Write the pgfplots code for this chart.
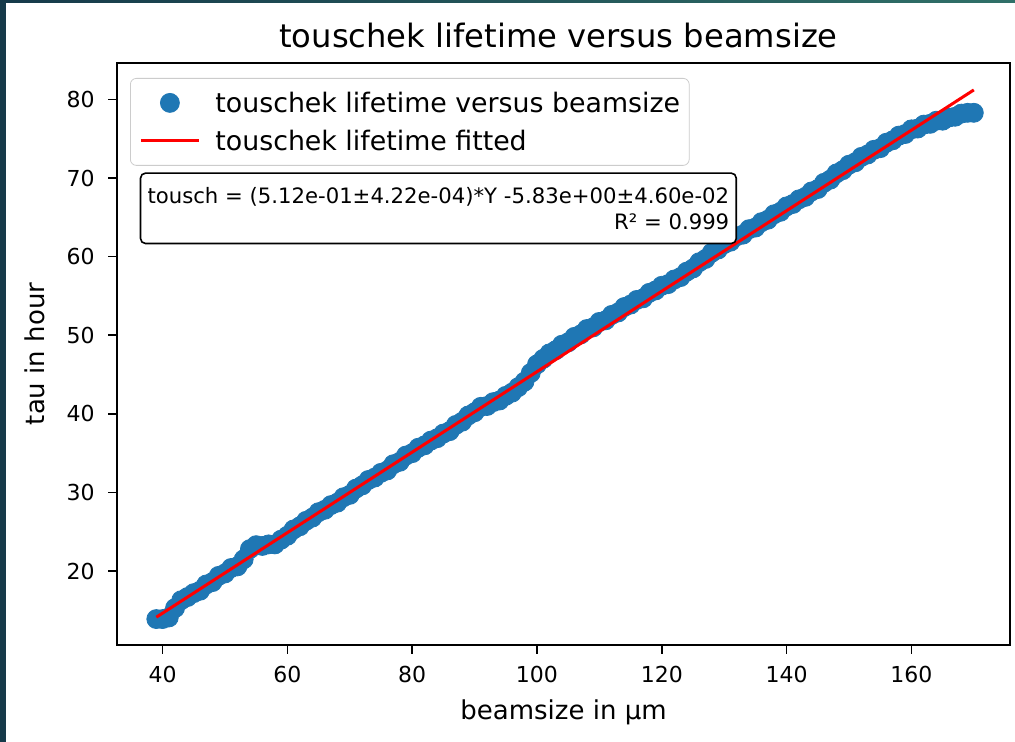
\documentclass[border=0pt]{standalone}
\usepackage{fontspec}
\setmainfont{DejaVu Sans}
\usepackage{pgfplots}
\usepackage{pgfplotstable}
\pgfplotsset{compat=1.18}
\definecolor{mplblue}{HTML}{1F77B4}
\definecolor{frameL}{RGB}{22,58,74}
\definecolor{frameR}{RGB}{48,112,104}
\pgfplotsset{
  dotlegend/.style={legend image code/.code={\draw[mark repeat=2,mark phase=2,##1] plot coordinates {(0pt,0pt)(14.5pt,0pt)(29pt,0pt)}; \path (36.5pt,0pt);}},
  linelegend/.style={legend image code/.code={\draw[##1] (0pt,0pt) -- (29pt,0pt); \path (36.5pt,0pt);}}
}
\pgfplotstableread{
x y
39 13.9
40 13.9
41 14.1
42 15.3
43 16.3
44 16.7
45 17.2
46 17.5
47 18.3
48 18.6
49 19.4
50 19.7
51 20.4
52 20.6
53 21.5
54 22.8
55 23.3
56 23.2
57 23.4
58 23.4
59 24.0
60 24.5
61 25.3
62 25.7
63 26.4
64 26.8
65 27.5
66 27.8
67 28.4
68 28.7
69 29.4
70 29.7
71 30.5
72 30.9
73 31.6
74 31.9
75 32.5
76 32.8
77 33.6
78 33.9
79 34.7
80 35.0
81 35.7
82 36.0
83 36.6
84 36.9
85 37.5
86 37.8
87 38.6
88 39.0
89 39.8
90 40.2
91 40.9
92 41.0
93 41.5
94 41.7
95 42.3
96 42.7
97 43.4
98 44.1
99 45.2
100 46.3
101 47.0
102 47.7
103 48.1
104 48.8
105 49.1
106 49.8
107 50.1
108 50.8
109 51.0
110 51.7
111 51.9
112 52.6
113 52.9
114 53.6
115 53.9
116 54.5
117 54.7
118 55.4
119 55.7
120 56.3
121 56.5
122 57.1
123 57.4
124 58.1
125 58.5
126 59.3
127 59.7
128 60.5
129 60.9
130 61.6
131 61.9
132 62.6
133 62.8
134 63.5
135 63.7
136 64.4
137 64.7
138 65.4
139 65.7
140 66.4
141 66.7
142 67.3
143 67.6
144 68.3
145 68.6
146 69.4
147 69.8
148 70.6
149 71.0
150 71.7
151 72.0
152 72.7
153 73.0
154 73.6
155 73.8
156 74.5
157 74.8
158 75.4
159 75.6
160 76.2
161 76.3
162 76.8
163 76.9
164 77.3
165 77.3
166 77.7
167 77.8
168 78.2
169 78.3
170 78.3
}\scatterdata
\pgfplotstableread{
x y
39 14.138
170 81.21
}\fitdata
\begin{document}
\begin{tikzpicture}
\shade[left color=frameL,right color=frameR] (0,0) rectangle (507.5pt,371pt);
\fill[white] (3pt,0) rectangle (507.5pt,369.3pt);
\begin{axis}[
  at={(58.5pt,48.5pt)}, anchor=south west,
  scale only axis, width=446.5pt, height=291pt,
  xmin=32.7, xmax=175.8, ymin=10.6, ymax=84.64,
  clip mode=individual,
  xtick={40,60,...,160}, ytick={20,30,...,80},
  tick align=outside, major tick length=4.5pt,
  tick style={black, line width=0.8pt},
  axis line style={line width=0.8pt},
  xtick pos=bottom, ytick pos=left,
  /pgf/number format/assume math mode=true,
  tick label style={font=\fontsize{11}{12}\selectfont},
  xticklabel style={anchor=north, inner sep=0pt, yshift=-6pt},
  yticklabel style={anchor=east, inner sep=0pt, xshift=-6.5pt},
  title={touschek lifetime versus beamsize},
  title style={at={(axis description cs:0.5,1)}, anchor=base, yshift=1.5pt, xshift=-2.5pt, font=\fontsize{16.1}{18}\selectfont},
  xlabel={beamsize in µm},
  xlabel style={at={(axis description cs:0.5,0)}, anchor=base, yshift=-37.5pt, font=\fontsize{13}{15}\selectfont},
  ylabel={tau in hour},
  ylabel style={at={(axis description cs:-0.0918,0.5)}, anchor=center, font=\fontsize{13}{15}\selectfont},
  legend cell align=left,
  legend style={at={(axis description cs:0,1)}, anchor=north west, xshift=6.5pt, yshift=-7.5pt,
    draw=black!20, rounded corners=3pt, fill=white, inner xsep=4.5pt, inner ysep=5pt,
    row sep=4.5pt, font=\fontsize{13.4}{15}\selectfont,
    nodes={inner sep=0pt, text height=12pt, text depth=2.5pt}},
]
\addplot[only marks, mark=*, mark size=4.75pt, mark options={fill=mplblue, draw=mplblue}, dotlegend]
  table[x=x,y=y] {\scatterdata};
\addlegendentry{touschek lifetime versus beamsize}
\addplot[red, line width=1.5pt, no marks, linelegend]
  table[x=x,y=y] {\fitdata};
\addlegendentry{touschek lifetime fitted}
\node[draw=black, line width=0.8pt, rounded corners=2.5pt, fill=white, align=right, inner xsep=3.5pt, inner ysep=7pt,
  font=\fontsize{10.6}{13}\selectfont] at (axis cs:84.2,66.15)
  {tousch = (5.12e-01±4.22e-04)*Y -5.83e+00±4.60e-02\\R² = 0.999};
\end{axis}
\end{tikzpicture}
\end{document}
